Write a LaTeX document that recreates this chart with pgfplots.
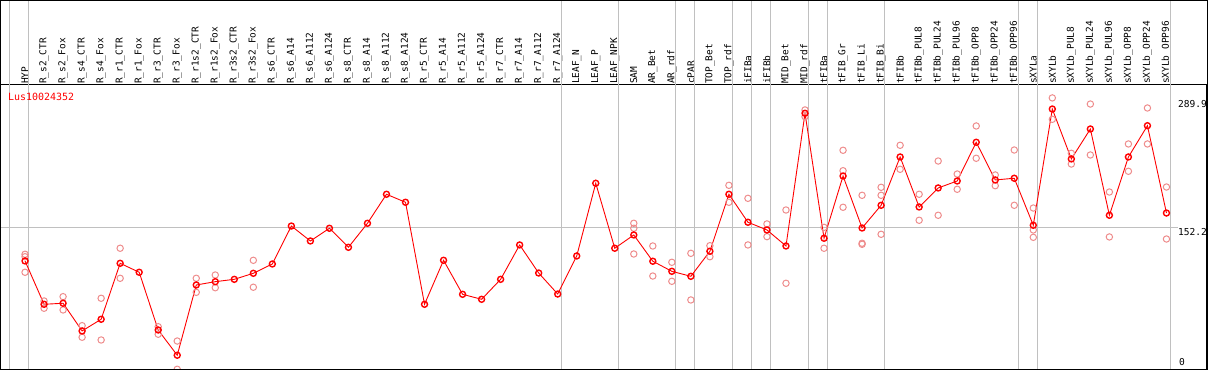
\documentclass[border=0pt]{standalone}
\usepackage{pgfplots}
\pgfplotsset{compat=1.18}
\usepackage{pgfplotstable}
\usepackage{fontspec}
\newfontfamily\labfont{DejaVu Sans Mono}
\definecolor{rep}{RGB}{238,140,140}
\definecolor{sep}{RGB}{192,192,192}

\pgfplotstableread{
x m
0 116.8
1 70.8
2 71.9
3 42.5
4 54.9
5 114.3
6 104.8
7 43.5
8 16.7
9 91.3
10 94.8
11 97.3
12 103.7
13 113.6
14 153.9
15 138.0
16 151.5
17 131.3
18 156.8
19 187.6
20 179.1
21 70.8
22 117.5
23 81.4
24 76.1
25 97.3
26 133.8
27 104.0
28 81.7
29 122.1
30 199.3
31 130.3
32 144.4
33 116.5
34 105.8
35 100.5
36 127.1
37 187.6
38 157.9
39 149.7
40 132.7
41 273.6
42 140.9
43 207.0
44 151.8
45 175.9
46 227.2
47 174.1
48 194.3
49 201.7
50 242.8
51 202.8
52 204.6
53 154.7
54 278.1
55 225.1
56 256.9
57 165.3
58 227.2
59 260.4
60 167.7
}\means

\pgfplotstableread{
x v
0 123.9
0 121.3
0 104.8
1 74.3
1 66.6
2 78.9
2 64.8
3 48.1
3 35.8
4 77.2
4 32.9
5 130.3
5 98.4
7 47.0
7 39.0
8 31.8
8 1.8
9 98.4
9 83.5
10 101.9
10 88.4
12 117.5
12 88.9
32 156.8
32 151.5
32 124.2
33 132.7
33 100.8
34 115.4
34 95.2
35 124.9
35 75.4
36 133.0
36 121.3
37 197.1
37 179.1
38 183.3
38 133.8
39 156.1
39 142.6
40 170.9
40 93.1
41 277.1
41 270.0
42 152.5
42 130.3
43 234.3
43 212.6
43 173.8
44 186.5
44 135.6
44 134.5
45 195.0
45 186.5
45 145.1
46 239.6
46 214.1
47 187.6
47 160.0
48 222.9
48 165.3
49 209.1
49 192.9
50 260.1
50 225.8
51 208.1
51 196.7
52 234.6
52 175.9
53 173.0
53 149.7
53 141.9
54 289.9
54 267.2
55 231.1
55 219.7
56 283.4
56 229.3
57 190.0
57 142.3
58 241.0
58 212.0
59 279.2
59 241.0
60 195.3
60 140.1
}\reps

\begin{document}
\begin{tikzpicture}
\begin{axis}[
  at={(0.5bp,1bp)}, anchor=south west,
  scale only axis, width=1206.5bp, height=284bp,
  xmin=-1.29, xmax=62.13, ymin=2.1, ymax=303.6,
  clip=false,
  axis line style={line width=1bp, black},
  ytick=\empty,
  xtick={0,...,60},
  xticklabels={HYP,R\_s2\_CTR,R\_s2\_Fox,R\_s4\_CTR,R\_s4\_Fox,R\_r1\_CTR,R\_r1\_Fox,R\_r3\_CTR,R\_r3\_Fox,R\_r1s2\_CTR,R\_r1s2\_Fox,R\_r3s2\_CTR,R\_r3s2\_Fox,R\_s6\_CTR,R\_s6\_A14,R\_s6\_A112,R\_s6\_A124,R\_s8\_CTR,R\_s8\_A14,R\_s8\_A112,R\_s8\_A124,R\_r5\_CTR,R\_r5\_A14,R\_r5\_A112,R\_r5\_A124,R\_r7\_CTR,R\_r7\_A14,R\_r7\_A112,R\_r7\_A124,LEAF\_N,LEAF\_P,LEAF\_NPK,SAM,AR\_Bet,AR\_rdf,cPAR,TOP\_Bet,TOP\_rdf,iFIBa,iFIBb,MID\_Bet,MID\_rdf,tFIBa,tFIB\_Gr,tFIB\_Li,tFIB\_Bi,tFIBb,tFIBb\_PUL8,tFIBb\_PUL24,tFIBb\_PUL96,tFIBb\_OPP8,tFIBb\_OPP24,tFIBb\_OPP96,sXYLa,sXYLb,sXYLb\_PUL8,sXYLb\_PUL24,sXYLb\_PUL96,sXYLb\_OPP8,sXYLb\_OPP24,sXYLb\_OPP96},
  xticklabel pos=upper,
  major tick length=0pt,
  xticklabel style={rotate=90, anchor=west, font=\labfont\fontsize{9.5}{10}\selectfont, inner sep=1bp, text=black},
]
\pgfplotsinvokeforeach{-0.8,0.2,28.2,31.2,34.2,35.2,37.2,38.2,39.2,41.2,42.2,45.2,52.2,53.2,60.2}{
  \draw[sep, line width=1bp] (axis cs:#1,2.1) -- (axis cs:#1,393);
}
\draw[sep, line width=1bp] (axis cs:-1.29,152.2) -- (axis cs:60.6,152.2);
\addplot[only marks, mark=o, mark size=3.2bp, color=rep, mark options={line width=1bp}] table[x=x,y=v]{\reps};
\addplot[red, line width=0.9bp, mark=o, mark size=3bp, mark options={line width=1.4bp}] table[x=x,y=m]{\means};
\node[anchor=west, text=red, font=\labfont\fontsize{10}{12}\selectfont, inner sep=0pt] at (axis cs:-0.894,290.9) {Lus10024352};
\node[anchor=north west, font=\labfont\fontsize{9.6}{11}\selectfont, inner sep=0pt, yshift=-2bp] at (axis cs:60.6,289.9) {289.9};
\node[anchor=north west, font=\labfont\fontsize{9.6}{11}\selectfont, inner sep=0pt, yshift=-1bp] at (axis cs:60.6,152.2) {152.2};
\node[anchor=south west, font=\labfont\fontsize{9.6}{11}\selectfont, inner sep=0pt, yshift=3bp] at (axis cs:60.65,2.1) {0};
\end{axis}
\draw[line width=1bp] (0.5bp,1bp) rectangle (1207bp,369.5bp);
\pgfresetboundingbox
\useasboundingbox (0,0) rectangle (1209bp,370bp);
\end{tikzpicture}
\end{document}
